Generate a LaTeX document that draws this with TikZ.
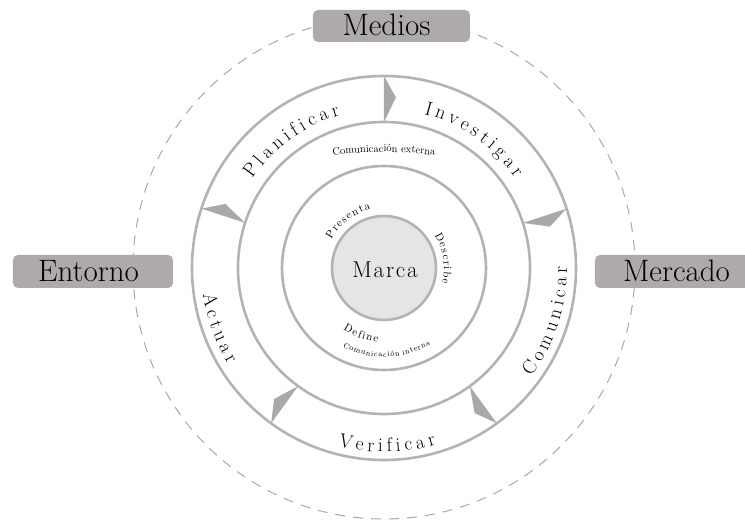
\documentclass[tikz,border=0pt]{standalone}
\usepackage{fontspec}
\newfontfamily\serif{Latin Modern Roman}
\newcommand\bigringfont{\serif\fontsize{19.5pt}{24pt}\selectfont}
\newcommand\midringfont{\serif\fontsize{11pt}{14pt}\selectfont}
\newcommand\tinyringfont{\serif\fontsize{7.6pt}{10pt}\selectfont}
\newcommand\extfont{\serif\fontsize{10.5pt}{13pt}\selectfont}
\newcommand\gA{\kern4pt}
\newcommand\gB{\kern1.3pt}
\newcommand\gC{\kern0.8pt}
\newcommand\gW{\kern3pt}
\usetikzlibrary{decorations.text}
\definecolor{ringgray}{HTML}{B4B2B4}
\definecolor{arrowgray}{HTML}{ABA8AB}
\definecolor{boxgray}{HTML}{ADA9AC}
\definecolor{marcafill}{HTML}{E5E5E5}
\definecolor{dashgray}{HTML}{A8A8A8}
\tikzset{
  ring/.style={draw=ringgray, line width=2.6pt},
  dashring/.style={draw=dashgray, line width=1pt, dash pattern=on 10pt off 8pt},
  tagbox/.style={fill=boxgray, rounded corners=5pt, draw=none, inner sep=0pt},
  taglabel/.style={font=\serif\fontsize{31pt}{36pt}\selectfont, anchor=base, inner sep=0pt},
  ringtext/.style={decorate, decoration={text along path, text align=center, text={#1}}},
  marker/.style={fill=arrowgray, draw=none}
}
\begin{document}
\begin{tikzpicture}[x=1pt,y=1pt]
\useasboundingbox (-384,-259) rectangle (361,268);
% outer dashed circle
\draw[dashring] (0,0) circle[radius=251pt];
% tag boxes
\node[tagbox, minimum width=157pt, minimum height=32pt] (mediosbox) at (7.5,242) {};
\node[taglabel] (medios) at (2.5,232) {Medios};
\node[tagbox, minimum width=160pt, minimum height=33pt] (entornobox) at (-291,-3.5) {};
\node[taglabel] (entorno) at (-295.5,-14) {Entorno};
\node[tagbox, minimum width=160pt, minimum height=33pt] (mercadobox) at (291,-3.5) {};
\node[taglabel] (mercado) at (292.5,-14) {Mercado};
% rings
\draw[ring] (0,0) circle[radius=192pt];
\draw[ring] (0,0) circle[radius=146pt];
\draw[ring] (0,0) circle[radius=102pt];
\draw[ring, fill=marcafill] (0,0) circle[radius=52pt];
% markers
\foreach \a in {90,18,-54,-126,162}
  \path[marker] (\a:146pt) -- (\a-4:171pt) -- (\a:192pt) -- cycle;
% centre
\node[font=\serif\fontsize{23pt}{28pt}\selectfont, anchor=base, inner sep=0pt] (marca) at (1,-10) {M\kern1.8pt a\kern1.8pt r\kern1.8pt c\kern1.8pt a};
% outer ring words
\path[ringtext={|\bigringfont|P{\gA}l{\gA}a{\gA}n{\gA}i{\gA}f{\gA}i{\gA}c{\gA}a{\gA}r}] (166:159pt) arc[start angle=166, end angle=86, radius=159pt];
\path[ringtext={|\bigringfont|I{\gA}n{\gA}v{\gA}e{\gA}s{\gA}t{\gA}i{\gA}g{\gA}a{\gA}r}] (95:159pt) arc[start angle=95, end angle=15, radius=159pt];
\path[ringtext={|\bigringfont|C{\gA}o{\gA}m{\gA}u{\gA}n{\gA}i{\gA}c{\gA}a{\gA}r}] (-58:183pt) arc[start angle=-58, end angle=22, radius=183pt];
\path[ringtext={|\bigringfont|V{\gA}e{\gA}r{\gA}i{\gA}f{\gA}i{\gA}c{\gA}a{\gA}r}] (-129:184pt) arc[start angle=-129, end angle=-49, radius=184pt];
\path[ringtext={|\bigringfont|A{\gA}c{\gA}t{\gA}u{\gA}a{\gA}r}] (160:183pt) arc[start angle=160, end angle=240, radius=183pt];
% middle ring
\path[ringtext={|\extfont|Comunicación externa}] ([shift={(0,-284pt)}]105:400pt) arc[start angle=105, end angle=75, radius=400pt];
% inner ring
\path[ringtext={|\midringfont|P{\gB}r{\gB}e{\gB}s{\gB}e{\gB}n{\gB}t{\gB}a}] (167:60pt) arc[start angle=167, end angle=87, radius=60pt];
\path[ringtext={|\midringfont|D{\gB}e{\gB}s{\gB}c{\gB}r{\gB}i{\gB}b{\gB}e}] (49:60pt) arc[start angle=49, end angle=-31, radius=60pt];
\path[ringtext={|\midringfont|D{\gB}e{\gB}f{\gB}i{\gB}n{\gB}e}] (-149:74pt) arc[start angle=-149, end angle=-69, radius=74pt];
\path[ringtext={|\tinyringfont|C{\gC}o{\gC}m{\gC}u{\gC}n{\gC}i{\gC}c{\gC}a{\gC}c{\gC}i{\gC}ó{\gC}n{\gW}i{\gC}n{\gC}t{\gC}e{\gC}r{\gC}n{\gC}a}] (-128:89pt) arc[start angle=-128, end angle=-48, radius=89pt];
\end{tikzpicture}
\end{document}
